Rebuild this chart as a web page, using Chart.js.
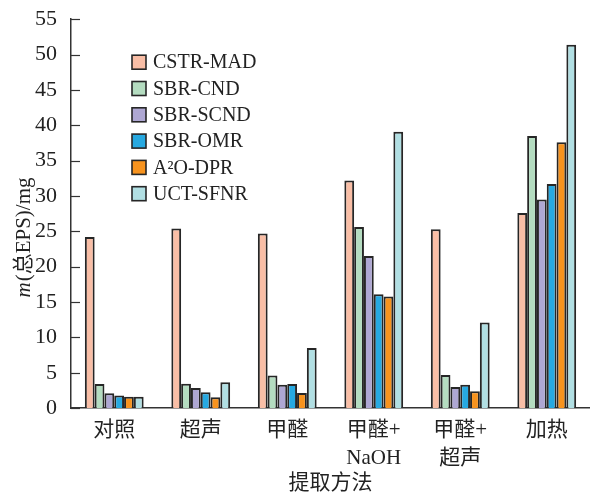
<!DOCTYPE html>
<html>
<head>
<meta charset="utf-8">
<script src="https://cdn.jsdelivr.net/npm/chart.js@4"></script>
<style>
  body { margin: 0; background: #fff; }
  #wrap { width: 590px; height: 495px; position: relative; }
</style>
</head>
<body>
<div id="wrap"><canvas id="myChart"></canvas></div>
<script>
// categories and values
var categories = ['对照', '超声', '甲醛', ['甲醛+', 'NaOH'], ['甲醛+', '超声'], '加热'];
var seriesNames = ['CSTR-MAD', 'SBR-CND', 'SBR-SCND', 'SBR-OMR', 'A²O-DPR', 'UCT-SFNR'];
var cstrMad = [24.2, 25.4, 24.7, 32.2, 25.3, 27.6];
var sbrCnd  = [3.4, 3.45, 4.6, 25.6, 4.7, 38.5];
var sbrScnd = [2.1, 2.85, 3.3, 21.5, 3.0, 29.5];
var sbrOmr  = [1.8, 2.25, 3.4, 16.1, 3.3, 31.7];
var a2oDpr  = [1.6, 1.55, 2.15, 15.8, 2.4, 37.6];
var uctSfnr = [1.6, 3.65, 8.5, 39.1, 12.1, 51.4];
var yMin = 0, yMax = 55, yStep = 5;

var colors = ['#f9bea6', '#b4dcc0', '#aea7d3', '#27a9e1', '#f7931e', '#b1dfe3'];
var serif = '"Liberation Serif", "Noto Sans CJK SC", serif';

var allValues = [cstrMad, sbrCnd, sbrScnd, sbrOmr, a2oDpr, uctSfnr];
var datasets = allValues.map(function (vals, i) {
  return {
    label: seriesNames[i],
    data: vals,
    backgroundColor: colors[i],
    borderColor: '#262626',
    borderWidth: 2,
    barPercentage: 1.0,
    categoryPercentage: 0.68
  };
});

// inward y ticks, legend box inside plot, axis titles (italic m)
var extras = {
  id: 'extras',
  afterDraw: function (chart) {
    var c = chart.ctx, area = chart.chartArea, y = chart.scales.y;
    c.save();
    c.strokeStyle = '#333';
    c.lineWidth = 1.2;
    for (var v = yMin; v <= yMax; v += yStep) {
      var py = Math.round(y.getPixelForValue(v)) + 0.5;
      c.beginPath();
      c.moveTo(area.left, py);
      c.lineTo(area.left + 9, py);
      c.stroke();
    }
    // legend
    c.font = '20px ' + serif;
    c.textBaseline = 'middle';
    c.textAlign = 'left';
    chart.data.datasets.forEach(function (ds, i) {
      var bx = area.left + 61, by = area.top + 43 + i * 26.3;
      c.fillStyle = ds.backgroundColor;
      c.fillRect(bx, by - 7, 14, 14);
      c.lineWidth = 1.6;
      c.strokeStyle = '#262626';
      c.strokeRect(bx, by - 7, 14, 14);
      c.fillStyle = '#222';
      c.fillText(ds.label, bx + 21, by + 1);
    });
    // x title
    c.font = '21px ' + serif;
    c.textAlign = 'center';
    c.fillText('提取方法', (area.left + area.right) / 2, 483);
    // y title
    c.translate(24, 238);
    c.rotate(-Math.PI / 2);
    var italic = 'italic 21px ' + serif, normal = '21px ' + serif;
    c.font = italic;
    var w1 = c.measureText('m').width;
    c.font = normal;
    var w2 = c.measureText('(总EPS)/mg').width;
    var x0 = -(w1 + w2) / 2;
    c.textAlign = 'left';
    c.font = italic;
    c.fillText('m', x0, 0);
    c.font = normal;
    c.fillText('(总EPS)/mg', x0 + w1 + 1, 0);
    c.restore();
  }
};

var ctx = document.getElementById('myChart').getContext('2d');
new Chart(ctx, {
  type: 'bar',
  data: { labels: categories, datasets: datasets },
  options: {
    responsive: true,
    maintainAspectRatio: false,
    animation: false,
    layout: { padding: { top: 3, right: 0, left: 4, bottom: 23 } },
    plugins: {
      legend: { display: false },
      tooltip: { enabled: false }
    },
    scales: {
      x: {
        grid: { display: false },
        border: { color: '#333', width: 1.5 },
        ticks: {
          color: '#222',
          font: { family: serif, size: 21, lineHeight: 1.33 },
          padding: 0,
          maxRotation: 0,
          autoSkip: false
        }
      },
      y: {
        min: yMin,
        max: yMax,
        afterFit: function (s) { s.width = 67; },
        grid: { display: false },
        border: { color: '#333', width: 1.5 },
        ticks: {
          stepSize: yStep,
          color: '#222',
          font: { family: serif, size: 22 },
          padding: 6
        }
      }
    }
  },
  plugins: [extras]
});
</script>
</body>
</html>
